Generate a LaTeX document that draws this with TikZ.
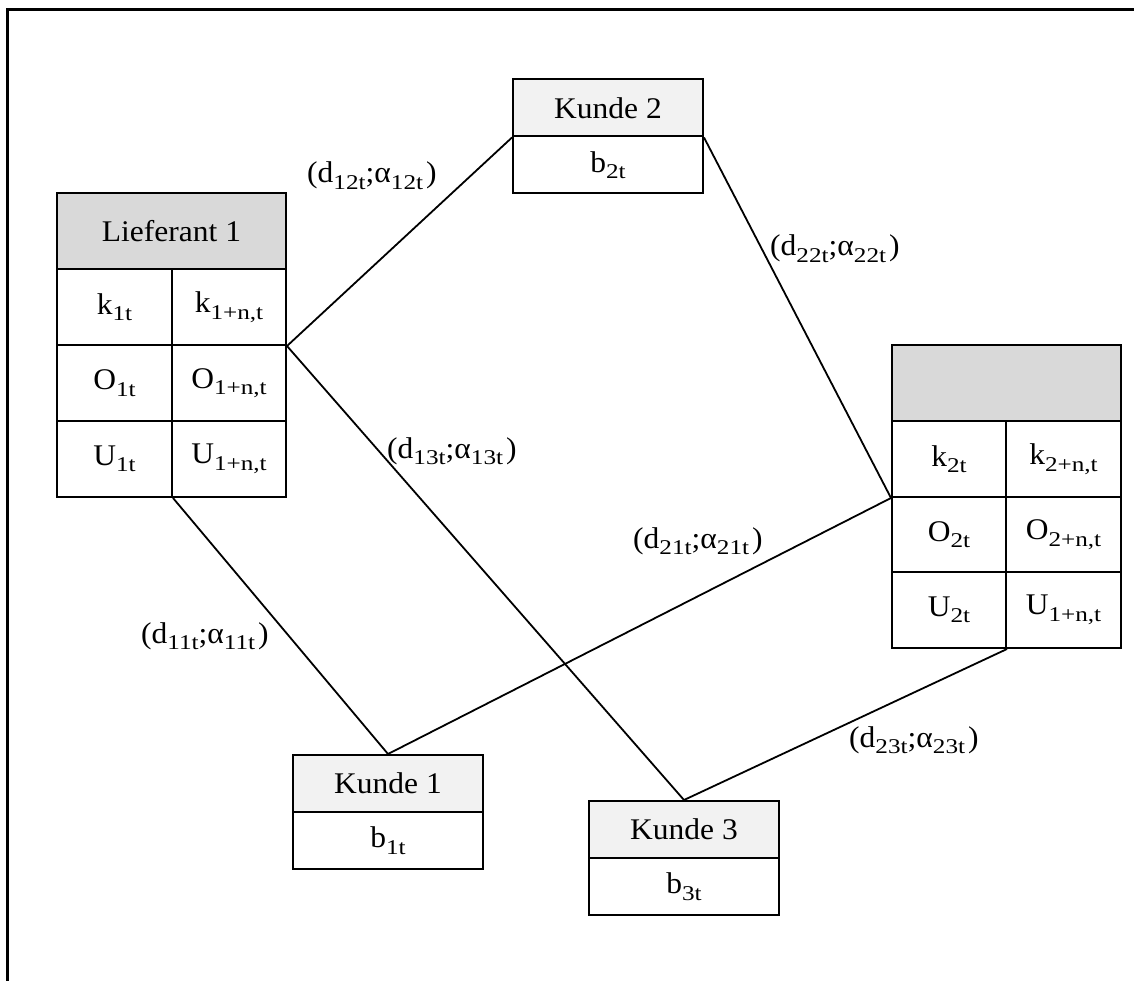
\documentclass[tikz,border=0pt]{standalone}
\usepackage{fontspec}
\setmainfont{Liberation Serif}[FakeStretch=1.05]
\newfontfamily\subfont{Liberation Serif}[FakeStretch=1.2]
% lowered, widened index text
\newcommand{\ix}[1]{\raisebox{-6.5pt}{\subfont\fontsize{21}{21}\selectfont #1}}
\begin{document}
\begin{tikzpicture}[x=1pt,y=-1pt,
  every node/.style={font=\fontsize{30}{36}\selectfont},
  cell/.style={draw=black, line width=2pt, inner sep=0pt, rectangle},
  bighead/.style={cell, fill=black!15, minimum width=229pt, minimum height=76pt},
  halfcell/.style={cell, fill=white, minimum height=76pt},
  kundehead/.style={cell, fill=black!5, minimum width=190pt, minimum height=57pt},
  kundebody/.style={cell, fill=white, minimum width=190pt, minimum height=57pt},
  link/.style={line width=1.8pt},
  frame/.style={line width=3pt},
  costlabel/.style={anchor=base west, inner sep=0pt}
]
\useasboundingbox (0,0) rectangle (1134,981);

% outer frame (top and left edges)
\coordinate (fa) at (1134,9.5);
\coordinate (fb) at (7.5,9.5);
\coordinate (fc) at (7.5,981);
\draw[frame] (fa) -- (fb) -- (fc);

% Lieferant 1
\node[bighead] (L1h) at (171.5,231) {Lieferant 1};
\node[halfcell, minimum width=115pt] (L1k1) at (114.5,307) {k\ix{1t}};
\node[halfcell, minimum width=114pt] (L1k2) at (229,307) {k\ix{1+n,t}};
\node[halfcell, minimum width=115pt] (L1o1) at (114.5,383) {O\ix{1t}};
\node[halfcell, minimum width=114pt] (L1o2) at (229,383) {O\ix{1+n,t}};
\node[halfcell, minimum width=115pt] (L1u1) at (114.5,459) {U\ix{1t}};
\node[halfcell, minimum width=114pt] (L1u2) at (229,459) {U\ix{1+n,t}};

% Lieferant 2 (header without title)
\node[bighead] (S2h) at (1006.5,383) {};
\node[halfcell, minimum width=114pt] (S2k1) at (949,459) {k\ix{2t}};
\node[halfcell, minimum width=115pt] (S2k2) at (1063.5,459) {k\ix{2+n,t}};
\node[halfcell, minimum width=114pt, minimum height=75pt] (S2o1) at (949,534.5) {O\ix{2t}};
\node[halfcell, minimum width=115pt, minimum height=75pt] (S2o2) at (1063.5,534.5) {O\ix{2+n,t}};
\node[halfcell, minimum width=114pt] (S2u1) at (949,610) {U\ix{2t}};
\node[halfcell, minimum width=115pt] (S2u2) at (1063.5,610) {U\ix{1+n,t}};

% Kunden
\node[kundehead] (K2h) at (608,108) {Kunde 2};
\node[kundebody] (K2b) at (608,165) {b\ix{2t}};
\node[kundehead] (K1h) at (388,783.5) {Kunde 1};
\node[kundebody] (K1b) at (388,840.5) {b\ix{1t}};
\node[kundehead] (K3h) at (684,829.5) {Kunde 3};
\node[kundebody] (K3b) at (684,886.5) {b\ix{3t}};

% transport links
\draw[link] (L1k2.south east) -- (K2h.south west);
\draw[link] (L1k2.south east) -- (K3h.north);
\draw[link] (L1u1.south east) -- (K1h.north);
\draw[link] (K2h.south east) -- (S2k1.south west);
\draw[link] (S2k1.south west) -- (K1h.north);
\draw[link] (S2u1.south east) -- (K3h.north);

% link labels
\node[costlabel] (c12) at (307,183) {(d\ix{12t};α\ix{12t}\kern3pt)};
\node[costlabel] (c13) at (387,458) {(d\ix{13t};α\ix{13t}\kern3pt)};
\node[costlabel] (c11) at (141,643) {(d\ix{11t};α\ix{11t}\kern3pt)};
\node[costlabel] (c22) at (770,256) {(d\ix{22t};α\ix{22t}\kern3pt)};
\node[costlabel] (c21) at (633,548) {(d\ix{21t};α\ix{21t}\kern3pt)};
\node[costlabel] (c23) at (849,747) {(d\ix{23t};α\ix{23t}\kern3pt)};
\end{tikzpicture}
\end{document}
